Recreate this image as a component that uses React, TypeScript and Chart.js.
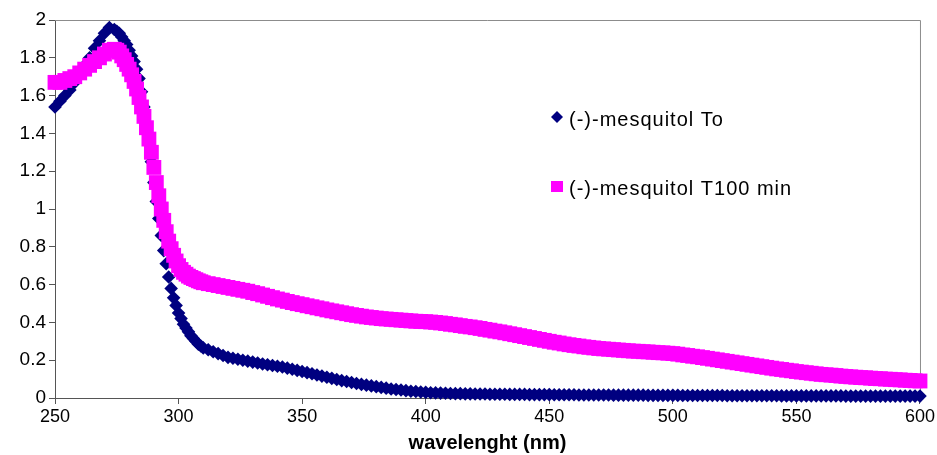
import React, { useEffect, useRef } from "react";
import { Chart, registerables } from "chart.js";

Chart.register(...registerables);

const wavelengths = [
  250, 252, 254, 256, 258, 260, 262, 264, 266, 268, 270, 272, 274,
  275, 276, 277, 278, 279, 280, 281, 282, 283, 284,
  285, 286, 287, 288, 289, 290, 291, 292, 293, 294,
  295, 296, 297, 298, 299, 300, 301, 302, 303, 304,
  305, 306, 307, 308, 309, 310,
  312, 314, 316, 318, 320, 322, 324, 326, 328, 330,
  332, 334, 336, 338, 340, 342, 344, 346, 348, 350,
  352, 354, 356, 358, 360, 362, 364, 366, 368, 370,
  372, 374, 376, 378, 380, 382, 384, 386, 388, 390,
  392, 394, 396, 398, 400, 402, 404, 406, 408, 410,
  412, 414, 416, 418, 420, 422, 424, 426, 428, 430,
  432, 434, 436, 438, 440, 442, 444, 446, 448, 450,
  452, 454, 456, 458, 460, 462, 464, 466, 468, 470,
  472, 474, 476, 478, 480, 482, 484, 486, 488, 490,
  492, 494, 496, 498, 500, 502, 504, 506, 508, 510,
  512, 514, 516, 518, 520, 522, 524, 526, 528, 530,
  532, 534, 536, 538, 540, 542, 544, 546, 548, 550,
  552, 554, 556, 558, 560, 562, 564, 566, 568, 570,
  572, 574, 576, 578, 580, 582, 584, 586, 588, 590,
  592, 594, 596, 598, 600,
];

// (-)-mesquitol To
const mesquitolT0 = [
  1.54, 1.57, 1.6, 1.63, 1.67, 1.72, 1.76, 1.8, 1.85, 1.89, 1.93, 1.96, 1.95,
  1.94, 1.93, 1.91, 1.89, 1.87, 1.84, 1.81, 1.78, 1.74, 1.69,
  1.62, 1.54, 1.45, 1.35, 1.25, 1.14, 1.04, 0.95, 0.86, 0.78,
  0.71, 0.64, 0.58, 0.53, 0.49, 0.45, 0.42, 0.39, 0.37, 0.35,
  0.33, 0.315, 0.3, 0.285, 0.275, 0.265,
  0.255, 0.245, 0.235, 0.225, 0.215, 0.21, 0.205, 0.2, 0.195, 0.19,
  0.185, 0.18, 0.176, 0.172, 0.168, 0.164, 0.158, 0.152, 0.146, 0.14,
  0.134, 0.128, 0.122, 0.116, 0.11, 0.104, 0.098, 0.092, 0.087, 0.082,
  0.077, 0.072, 0.068, 0.064, 0.06, 0.056, 0.052, 0.048, 0.045, 0.042,
  0.039, 0.036, 0.034, 0.032, 0.03, 0.028, 0.027, 0.026, 0.025, 0.024,
  0.023, 0.023, 0.022, 0.022, 0.021, 0.021, 0.021, 0.02, 0.02, 0.02,
  0.02, 0.019, 0.019, 0.019, 0.019, 0.018, 0.018, 0.018, 0.018, 0.018,
  0.017, 0.017, 0.017, 0.017, 0.017, 0.016, 0.016, 0.016, 0.016, 0.016,
  0.016, 0.016, 0.015, 0.015, 0.015, 0.015, 0.015, 0.015, 0.015, 0.014,
  0.014, 0.014, 0.014, 0.014, 0.014, 0.014, 0.013, 0.013, 0.013, 0.013,
  0.013, 0.013, 0.013, 0.013, 0.013, 0.012, 0.012, 0.012, 0.012, 0.012,
  0.012, 0.012, 0.012, 0.012, 0.012, 0.012, 0.011, 0.011, 0.011, 0.011,
  0.011, 0.011, 0.011, 0.011, 0.011, 0.011, 0.011, 0.011, 0.011, 0.01,
  0.01, 0.01, 0.01, 0.01, 0.01, 0.01, 0.01, 0.01, 0.01, 0.01,
  0.01, 0.01, 0.01, 0.01, 0.01,
];

// (-)-mesquitol T100 min
const mesquitolT100 = [
  1.67, 1.67, 1.68, 1.69, 1.7, 1.72, 1.74, 1.76, 1.78, 1.8, 1.82, 1.84, 1.845,
  1.84, 1.83, 1.81, 1.79, 1.765, 1.74, 1.71, 1.675, 1.635, 1.59,
  1.54, 1.49, 1.43, 1.37, 1.3, 1.22, 1.14, 1.07, 1.0, 0.94,
  0.88, 0.83, 0.79, 0.755, 0.725, 0.7, 0.68, 0.665, 0.655, 0.645,
  0.638, 0.632, 0.626, 0.62, 0.615, 0.61,
  0.605, 0.6, 0.595, 0.59, 0.585, 0.58, 0.575, 0.57, 0.565, 0.558,
  0.552, 0.545, 0.538, 0.531, 0.524, 0.518, 0.511, 0.505, 0.499, 0.494,
  0.488, 0.483, 0.477, 0.472, 0.466, 0.461, 0.456, 0.451, 0.446, 0.441,
  0.437, 0.433, 0.429, 0.426, 0.423, 0.42, 0.418, 0.416, 0.414, 0.412,
  0.41, 0.408, 0.406, 0.405, 0.404, 0.402, 0.4, 0.397, 0.394, 0.39,
  0.387, 0.383, 0.379, 0.376, 0.372, 0.368, 0.363, 0.359, 0.354, 0.35,
  0.345, 0.34, 0.335, 0.33, 0.325, 0.32, 0.315, 0.31, 0.305, 0.3,
  0.295, 0.291, 0.286, 0.282, 0.278, 0.275, 0.271, 0.268, 0.265, 0.262,
  0.26, 0.258, 0.256, 0.254, 0.252, 0.25, 0.248, 0.247, 0.245, 0.244,
  0.242, 0.24, 0.239, 0.237, 0.235, 0.232, 0.228, 0.225, 0.221, 0.218,
  0.214, 0.21, 0.206, 0.202, 0.198, 0.194, 0.19, 0.186, 0.182, 0.178,
  0.174, 0.17, 0.166, 0.162, 0.158, 0.154, 0.151, 0.147, 0.144, 0.14,
  0.137, 0.134, 0.131, 0.128, 0.125, 0.123, 0.121, 0.119, 0.116, 0.114,
  0.112, 0.11, 0.108, 0.107, 0.105, 0.103, 0.102, 0.1, 0.099, 0.097,
  0.096, 0.094, 0.093, 0.091, 0.09,
];

const seriesNames = ["(-)-mesquitol To", "(-)-mesquitol T100 min"];
const xAxisTitle = "wavelenght (nm)";
const xMin = 250;
const xMax = 600;
const xStep = 50;
const yMin = 0;
const yMax = 2;
const yStep = 0.2;

const NAVY = "#000080";
const MAGENTA = "#FF00FF";
const AXIS = "#555555";
const FONT = "'Liberation Sans', Arial, sans-serif";

const frameBorderPlugin = {
  id: "frameBorder",
  beforeDatasetsDraw(chart: any) {
    const { ctx, chartArea } = chart;
    ctx.save();
    ctx.strokeStyle = "#8c8c8c";
    ctx.lineWidth = 1;
    ctx.beginPath();
    ctx.moveTo(chartArea.left, chartArea.top + 0.5);
    ctx.lineTo(chartArea.right + 0.5, chartArea.top + 0.5);
    ctx.lineTo(chartArea.right + 0.5, chartArea.bottom);
    ctx.stroke();
    ctx.restore();
  },
};

const customLegendPlugin = {
  id: "customLegend",
  afterDraw(chart: any) {
    const { ctx } = chart;
    ctx.save();
    ctx.font = `20px ${FONT}`;
    ctx.fillStyle = "#000";
    ctx.textBaseline = "middle";
    ctx.textAlign = "left";
    try {
      (ctx as any).letterSpacing = "1px";
    } catch (e) {}
    const x0 = 557;
    const y1 = 117;
    ctx.fillStyle = NAVY;
    ctx.beginPath();
    ctx.moveTo(x0, y1 - 6);
    ctx.lineTo(x0 + 6, y1);
    ctx.lineTo(x0, y1 + 6);
    ctx.lineTo(x0 - 6, y1);
    ctx.closePath();
    ctx.fill();
    ctx.fillStyle = "#000";
    ctx.fillText(seriesNames[0], 569, y1 + 3);
    const y2 = 186;
    ctx.fillStyle = MAGENTA;
    ctx.fillRect(x0 - 6, y2 - 5, 12, 11);
    ctx.fillStyle = "#000";
    ctx.fillText(seriesNames[1], 569, y2 + 3);
    ctx.restore();
  },
};

export default function App() {
  const ref = useRef<HTMLCanvasElement>(null);

  useEffect(() => {
    document.body.style.margin = "0";
    const canvas = ref.current;
    if (!canvas) return;
    const chart = new Chart(canvas, {
      type: "scatter",
      data: {
        datasets: [
          {
            label: seriesNames[0],
            data: wavelengths.map((x, i) => ({ x, y: mesquitolT0[i] })),
            pointStyle: "rectRot",
            pointRadius: 6.8,
            pointHoverRadius: 6.8,
            backgroundColor: NAVY,
            borderColor: NAVY,
            borderWidth: 0,
            order: 1,
            clip: false,
          } as any,
          {
            label: seriesNames[1],
            data: wavelengths.map((x, i) => ({ x, y: mesquitolT100[i] })),
            pointStyle: "rect",
            pointRadius: 10.5,
            pointHoverRadius: 10.5,
            backgroundColor: MAGENTA,
            borderColor: MAGENTA,
            borderWidth: 0,
            order: 0,
            clip: false,
          } as any,
        ],
      },
      options: {
        animation: false,
        responsive: false,
        devicePixelRatio: 1,
        layout: { padding: { left: 0, right: 17, top: 20, bottom: 0 } },
        plugins: {
          legend: { display: false },
          tooltip: { enabled: false },
        },
        scales: {
          x: {
            type: "linear",
            min: xMin,
            max: xMax,
            afterFit: (s: any) => {
              s.height = 57;
            },
            grid: {
              drawOnChartArea: false,
              drawTicks: true,
              tickLength: 6,
              color: AXIS,
            },
            border: { color: AXIS, width: 1 },
            ticks: {
              stepSize: xStep,
              font: { size: 18, family: FONT },
              color: "#000",
              padding: 2,
              maxRotation: 0,
            },
            title: {
              display: true,
              text: xAxisTitle,
              font: { size: 20, weight: "bold", family: FONT },
              color: "#000",
              padding: { top: 0, bottom: 0 },
            },
          },
          y: {
            type: "linear",
            min: yMin,
            max: yMax,
            afterFit: (s: any) => {
              s.width = 55;
            },
            grid: {
              drawOnChartArea: false,
              drawTicks: true,
              tickLength: 6,
              color: AXIS,
            },
            border: { color: AXIS, width: 1 },
            ticks: {
              stepSize: yStep,
              font: { size: 19, family: FONT },
              color: "#000",
              padding: 3,
              callback: (v: any) => String(Math.round(Number(v) * 10) / 10),
            },
          },
        },
      },
      plugins: [frameBorderPlugin, customLegendPlugin],
    });
    return () => chart.destroy();
  }, []);

  return (
    <div style={{ width: 937, height: 455 }}>
      <canvas ref={ref} width={937} height={455} style={{ display: "block" }} />
    </div>
  );
}
